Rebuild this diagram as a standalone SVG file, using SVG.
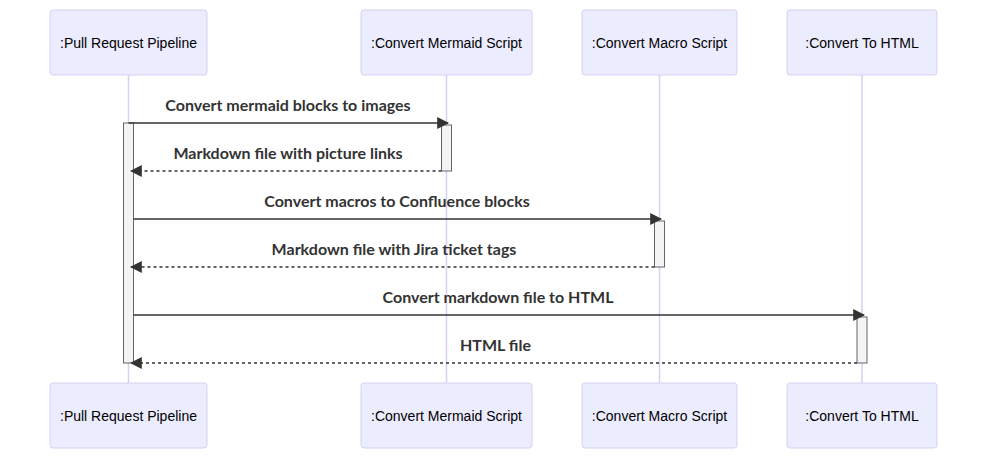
<svg xmlns="http://www.w3.org/2000/svg" width="987" height="459" viewBox="0 0 987 459">
<style>
.actor{fill:#ECECFF;stroke:#D6D0F2;stroke-width:1}
.atext{font-family:"Liberation Sans",Arial,sans-serif;font-size:14px;fill:#000;text-anchor:middle;dominant-baseline:central}
.life{stroke:#D6D0F2;stroke-width:1.5}
.act{fill:#F4F4F4;stroke:#666;stroke-width:1}
.msg{stroke:#333;stroke-width:1.5;fill:none}
.dash{stroke-dasharray:3,3}
.mtext{font-family:Lato,"DejaVu Sans",sans-serif;font-weight:bold;font-size:16px;fill:#333;text-anchor:middle}
</style>
<defs>
<marker id="arrow" viewBox="0 0 10 10" refX="9" refY="5" markerUnits="userSpaceOnUse" markerWidth="12" markerHeight="12" orient="auto">
<path d="M0,0 L10,5 L0,10 z" fill="#333"/>
</marker>
</defs>
<g id="lifelines">
<line class="life" x1="128.5" y1="75" x2="128.5" y2="383"/>
<line class="life" x1="446.5" y1="75" x2="446.5" y2="383"/>
<line class="life" x1="659.5" y1="75" x2="659.5" y2="383"/>
<line class="life" x1="862" y1="75" x2="862" y2="383"/>
</g>
<g id="actor-pipeline-top"><rect class="actor" x="50" y="10" width="157" height="65" rx="3"/><text class="atext" x="128.5" y="42.5">:Pull Request Pipeline</text></g>
<g id="actor-mermaid-top"><rect class="actor" x="361" y="10" width="171" height="65" rx="3"/><text class="atext" x="446.5" y="42.5">:Convert Mermaid Script</text></g>
<g id="actor-macro-top"><rect class="actor" x="582" y="10" width="155" height="65" rx="3"/><text class="atext" x="659.5" y="42.5">:Convert Macro Script</text></g>
<g id="actor-html-top"><rect class="actor" x="787" y="10" width="150" height="65" rx="3"/><text class="atext" x="862" y="42.5">:Convert To HTML</text></g>
<g id="actor-pipeline-bottom"><rect class="actor" x="50" y="383" width="157" height="65" rx="3"/><text class="atext" x="128.5" y="415.5">:Pull Request Pipeline</text></g>
<g id="actor-mermaid-bottom"><rect class="actor" x="361" y="383" width="171" height="65" rx="3"/><text class="atext" x="446.5" y="415.5">:Convert Mermaid Script</text></g>
<g id="actor-macro-bottom"><rect class="actor" x="582" y="383" width="155" height="65" rx="3"/><text class="atext" x="659.5" y="415.5">:Convert Macro Script</text></g>
<g id="actor-html-bottom"><rect class="actor" x="787" y="383" width="150" height="65" rx="3"/><text class="atext" x="862" y="415.5">:Convert To HTML</text></g>
<g id="activations">
<rect class="act" x="123.5" y="123" width="10" height="240"/>
<rect class="act" x="441.5" y="125" width="10" height="46"/>
<rect class="act" x="654.5" y="221" width="10" height="46"/>
<rect class="act" x="857" y="317" width="10" height="46"/>
</g>
<g id="connectors">
<line class="msg" x1="128.5" y1="123" x2="448" y2="123" marker-end="url(#arrow)"/>
<line class="msg dash" x1="441.5" y1="171" x2="131" y2="171" marker-end="url(#arrow)"/>
<line class="msg" x1="133.5" y1="219" x2="661" y2="219" marker-end="url(#arrow)"/>
<line class="msg dash" x1="654.5" y1="267" x2="131" y2="267" marker-end="url(#arrow)"/>
<line class="msg" x1="133.5" y1="315" x2="864" y2="315" marker-end="url(#arrow)"/>
<line class="msg dash" x1="857" y1="363" x2="131" y2="363" marker-end="url(#arrow)"/>
</g>
<g id="labels">
<text class="mtext" x="288" y="110.5">Convert mermaid blocks to images</text>
<text class="mtext" x="288" y="158.5">Markdown file with picture links</text>
<text class="mtext" x="397" y="206.5">Convert macros to Confluence blocks</text>
<text class="mtext" x="394" y="254.5">Markdown file with Jira ticket tags</text>
<text class="mtext" x="498" y="302.5">Convert markdown file to HTML</text>
<text class="mtext" x="495.5" y="350.5">HTML file</text>
</g>
</svg>
